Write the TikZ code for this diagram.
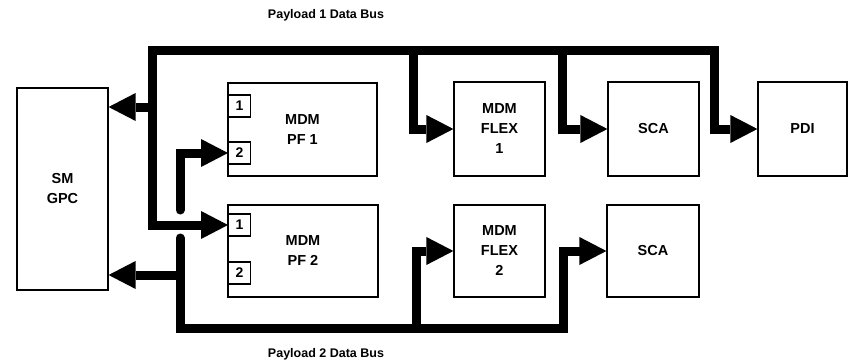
\documentclass[tikz,border=0pt]{standalone}
\usepackage{fontspec}
\setmainfont{Liberation Sans}
\usetikzlibrary{arrows.meta}
\begin{document}
\begin{tikzpicture}[x=1pt,y=-1pt,
  box/.style={draw, line width=1.2pt, rectangle, inner sep=0pt, align=center,
    font=\bfseries\fontsize{14.5}{20}\selectfont},
  port/.style={draw, line width=1.2pt, rectangle, minimum width=22pt, minimum height=22pt,
    inner sep=0pt, font=\bfseries\fontsize{14}{16}\selectfont},
  bus/.style={line width=9pt, -{Triangle[length=27pt,width=28pt,line width=0pt]}},
  busb/.style={line width=9pt, {Triangle[length=27pt,width=28pt,line width=0pt]}-{Triangle[length=27pt,width=28pt,line width=0pt]}},
  buslabel/.style={font=\bfseries\fontsize{12.5}{14}\selectfont}]
\useasboundingbox (0,0) rectangle (855,364);
% boxes
\node[box, minimum width=91pt, minimum height=202pt] (gpc) at (62.5,189) {SM\\GPC};
\node[box, minimum width=149pt, minimum height=93pt] (pf1) at (302.5,129.5) {MDM\\PF 1};
\node[box, minimum width=150pt, minimum height=92pt] (pf2) at (303,251) {MDM\\PF 2};
\node[box, minimum width=91pt, minimum height=94pt] (flex1) at (499.5,129) {MDM\\FLEX\\1};
\node[box, minimum width=91pt, minimum height=92pt] (flex2) at (499.5,251) {MDM\\FLEX\\2};
\node[box, minimum width=91pt, minimum height=94pt] (sca1) at (653.5,129) {SCA};
\node[box, minimum width=89pt, minimum height=94pt] (pdi) at (802.5,129) {PDI};
\node[box, minimum width=92pt, minimum height=92pt] (sca2) at (653,251) {SCA};
% ports
\node[port, anchor=west] (p11) at (228,106) {1};
\node[port, anchor=west] (p12) at (228,153) {2};
\node[port, anchor=west] (p21) at (228,225) {1};
\node[port, anchor=west] (p22) at (228,273) {2};
% bus junctions
\coordinate (b1tl) at (152,50);
\coordinate (b1tr) at (714,50);
\coordinate (b1f) at (413,50);
\coordinate (b1s) at (562,50);
\coordinate (b1g) at (152,107);
\coordinate (b2top) at (180,210);
\coordinate (b2gap) at (180,238);
\coordinate (b2bl) at (180,328);
\coordinate (b2br) at (563,328);
\coordinate (b2f) at (416,328);
\coordinate (b2g) at (180,275);
% Payload 1 data bus
\draw[busb] (p21.west) -| (b1tl) -- (b1tr) |- (pdi.west);
\draw[bus] (b1f) |- (flex1.west);
\draw[bus] (b1s) |- (sca1.west);
\draw[bus] (b1g) -- (gpc.east |- b1g);
% Payload 2 data bus
\draw[bus, line cap=round] (b2top) |- (p12.west);
\draw[bus, line cap=round] (b2gap) -- (b2bl) -- (b2br) |- (sca2.west);
\draw[bus] (b2f) |- (flex2.west);
\draw[bus] (b2g) -- (gpc.east |- b2g);
% labels
\node[buslabel] (lab1) at (326,15) {Payload 1 Data Bus};
\node[buslabel] (lab2) at (326,354) {Payload 2 Data Bus};
\end{tikzpicture}
\end{document}
